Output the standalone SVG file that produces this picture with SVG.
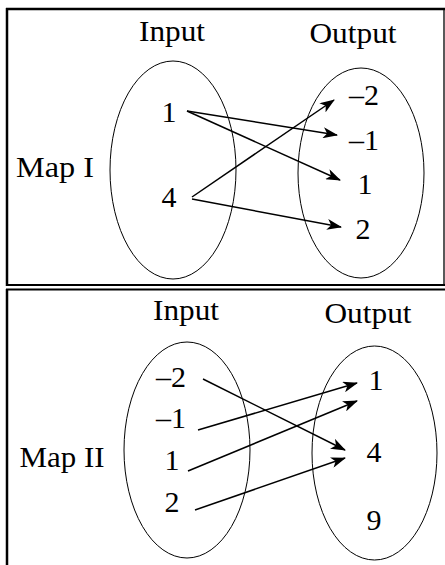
<svg xmlns="http://www.w3.org/2000/svg" width="445" height="565" viewBox="0 0 445 565">
<style>
text{font-family:'Liberation Serif',Tinos,'Times New Roman',Times,serif;font-size:30px;fill:#000;text-anchor:middle}
.ell{fill:none;stroke:#000;stroke-width:1}
.conn line{stroke:#000;stroke-width:1.5;marker-end:url(#ah)}
.frame{stroke:#000;fill:none}
</style>
<defs>
<marker id="ah" viewBox="0 0 15 11" refX="14" refY="5.5" markerWidth="15" markerHeight="11" markerUnits="userSpaceOnUse" orient="auto">
<path d="M0,0 L15,5.5 L0,11 L4,5.5 z" fill="#000"/>
</marker>
</defs>
<g id="frame">
<line class="frame" x1="6" y1="9" x2="445" y2="9" stroke-width="2.5"/>
<line class="frame" x1="7" y1="8" x2="7" y2="286" stroke-width="2.5"/>
<line class="frame" x1="444" y1="9" x2="444" y2="286" stroke-width="1.3"/>
<line class="frame" x1="6" y1="285" x2="445" y2="285" stroke-width="2"/>
<line class="frame" x1="6" y1="289.5" x2="445" y2="289.5" stroke-width="2"/>
<line class="frame" x1="7" y1="289" x2="7" y2="565" stroke-width="2.5"/>
</g>
<g id="map1">
<text id="m1-label" x="55" y="177" textLength="78" lengthAdjust="spacingAndGlyphs">Map I</text>
<text id="m1-input-title" x="172" y="41" textLength="66" lengthAdjust="spacingAndGlyphs">Input</text>
<text id="m1-output-title" x="353" y="43" textLength="87" lengthAdjust="spacingAndGlyphs">Output</text>
<g id="m1-input"><ellipse class="ell" cx="173" cy="170" rx="63" ry="109"/>
<text x="169" y="122">1</text><text x="169" y="207">4</text></g>
<g id="m1-output"><ellipse class="ell" cx="361" cy="173" rx="63" ry="105"/>
<text x="364" y="105">–2</text><text x="364" y="150">–1</text><text x="365" y="194">1</text><text x="363" y="239">2</text></g>
</g>
<g id="map2">
<text id="m2-label" x="62" y="467" textLength="85" lengthAdjust="spacingAndGlyphs">Map II</text>
<text id="m2-input-title" x="186" y="320" textLength="66" lengthAdjust="spacingAndGlyphs">Input</text>
<text id="m2-output-title" x="368" y="323" textLength="87" lengthAdjust="spacingAndGlyphs">Output</text>
<g id="m2-input"><ellipse class="ell" cx="187" cy="450" rx="63" ry="108"/>
<text x="171" y="387">–2</text><text x="171" y="428">–1</text><text x="172" y="470">1</text><text x="172" y="512">2</text></g>
<g id="m2-output"><ellipse class="ell" cx="374.5" cy="453" rx="62.5" ry="107"/>
<text x="376" y="390">1</text><text x="374" y="462">4</text><text x="374" y="530">9</text></g>
</g>
<g id="connectors" class="conn">
<line x1="187" y1="111" x2="337" y2="135"/>
<line x1="187" y1="111" x2="340" y2="180"/>
<line x1="192" y1="197" x2="334" y2="100"/>
<line x1="192" y1="199" x2="341" y2="227"/>
<line x1="203" y1="379" x2="345" y2="450"/>
<line x1="198" y1="430" x2="357" y2="383"/>
<line x1="188" y1="471" x2="357" y2="401"/>
<line x1="195" y1="510" x2="345" y2="458"/>
</g>
</svg>
